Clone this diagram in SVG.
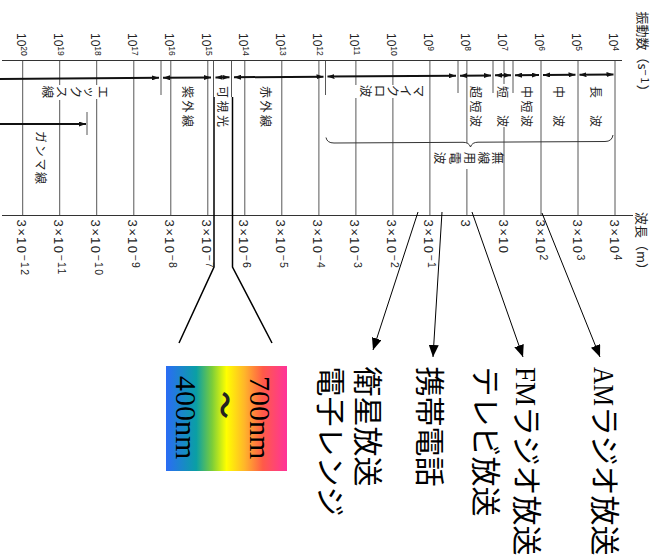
<svg xmlns="http://www.w3.org/2000/svg" width="658" height="560" viewBox="0 0 658 560">
<defs>
<style>
.ax{stroke:#333;stroke-width:1;fill:none}
.tk{stroke:#444;stroke-width:0.9;fill:none}
.bold{stroke:#000;stroke-width:1.5;fill:none}
.seg{stroke:#111;stroke-width:2;marker-start:url(#ah);marker-end:url(#ah)}
.seg1{stroke:#111;stroke-width:2;marker-end:url(#ah)}
.ptr{stroke:#000;stroke-width:1;fill:none;marker-end:url(#big)}
.num{font-family:"Liberation Sans",Arial,sans-serif;fill:#222}
.top{font-size:12px}
.bot{font-size:13px;letter-spacing:1.4px}
.jp{font-family:"Noto Sans CJK JP",sans-serif;fill:#222}
.lab{font-family:"Noto Sans CJK JP",sans-serif;font-size:12px;fill:#222;letter-spacing:2.5px}
.ch{font-family:"Noto Sans CJK JP",sans-serif;font-size:12.5px;fill:#222;text-anchor:middle;dominant-baseline:central}
.rl{font-family:"Noto Sans CJK JP",sans-serif;font-size:30px;fill:#000}
.lat{font-family:"Liberation Serif",serif}
.nm{font-family:"Liberation Serif",serif;font-size:30px;fill:#000}
</style>
<marker id="ah" viewBox="0 0 7 5" refX="7" refY="2.5" markerWidth="7" markerHeight="5" markerUnits="userSpaceOnUse" orient="auto-start-reverse"><path d="M0,0 L7,2.5 L0,5 Z" fill="#111"/></marker>
<marker id="big" viewBox="0 0 12 10" refX="12" refY="5" markerWidth="12" markerHeight="10" markerUnits="userSpaceOnUse" orient="auto"><path d="M0,0 L12,5 L0,10 Z" fill="#000"/></marker>
<linearGradient id="spec" x1="0" y1="0" x2="1" y2="0">
<stop offset="0" stop-color="#2b6cf5"/>
<stop offset="0.25" stop-color="#0a9fa5"/>
<stop offset="0.38" stop-color="#7acd3a"/>
<stop offset="0.5" stop-color="#ffff00"/>
<stop offset="0.65" stop-color="#ffb52a"/>
<stop offset="0.8" stop-color="#ff5a48"/>
<stop offset="1" stop-color="#ff3399"/>
</linearGradient>
</defs>
<rect width="658" height="560" fill="#fff"/>

<g id="axes">
<path class="ax" d="M2,60.5 H622"/>
<path class="ax" d="M2,215.5 H633"/>
</g>

<g id="ticks">
<path class="tk" d="M22.7,60.5 V215.5 M59.7,60.5 V85 M59.7,100 V215.5 M96.7,60.5 V85 M96.7,99 V215.5 M133.8,60.5 V215.5 M170.8,60.5 V215.5 M207.8,60.5 V215.5 M244.8,60.5 V215.5 M281.8,60.5 V215.5 M318.9,60.5 V215.5 M355.9,60.5 V85 M355.9,98 V215.5 M392.9,60.5 V85 M392.9,98 V215.5 M429.9,60.5 V215.5 M466.9,60.5 V143 M466.9,169 V215.5 M504,60.5 V84 M504,127 V215.5 M541,60.5 V215.5 M578,60.5 V215.5 M615,60.5 V215.5"/>
<path class="tk" d="M161,60.5 V95 M325.5,60.5 V95 M458,60.5 V93 M493,60.5 V93 M513,60.5 V93 M213.5,60.5 V97 M231.5,60.5 V97"/>
<path class="tk" d="M87,112 V135"/>
<path class="ax" d="M326,137.5 Q327,143 334,143 L463,142.3 Q469,142.3 470.5,147 Q472,142.2 478,142.2 L605,141.5 Q612,141.5 613,135"/>
</g>

<g id="visible-lines">
<path class="bold" d="M214,97 V267 L179,343"/>
<path class="bold" d="M232.5,97 V267 L272,343"/>
</g>

<g id="connectors">
<line class="seg1" x1="0" y1="79" x2="159" y2="77.83"/>
<line class="seg" x1="163" y1="77.81" x2="211" y2="77.45"/>
<line class="seg" x1="215.5" y1="77.42" x2="229.5" y2="77.32"/>
<line class="seg" x1="234" y1="77.28" x2="323.5" y2="76.63"/>
<line class="seg" x1="327.5" y1="76.6" x2="456" y2="75.66"/>
<line class="seg" x1="460" y1="75.63" x2="491" y2="75.4"/>
<line class="seg" x1="495" y1="75.37" x2="511" y2="75.25"/>
<line class="seg" x1="515" y1="75.22" x2="539" y2="75.05"/>
<line class="seg" x1="543" y1="75.02" x2="575.5" y2="74.78"/>
<line class="seg" x1="579.5" y1="74.75" x2="613.5" y2="74.5"/>
<line class="seg1" x1="0" y1="124" x2="86" y2="124"/>
<line class="ptr" x1="542" y1="213" x2="600" y2="357"/>
<line class="ptr" x1="472" y1="212" x2="523" y2="357"/>
<line class="ptr" x1="442" y1="212" x2="433" y2="357"/>
<line class="ptr" x1="418" y1="212" x2="373" y2="350"/>
</g>

<g id="freq-labels" class="num top">
<text transform="translate(17,33) rotate(90)">10<tspan font-size="8.5" dy="-4">20</tspan></text>
<text transform="translate(54,33) rotate(90)">10<tspan font-size="8.5" dy="-4">19</tspan></text>
<text transform="translate(91,33) rotate(90)">10<tspan font-size="8.5" dy="-4">18</tspan></text>
<text transform="translate(128.1,33) rotate(90)">10<tspan font-size="8.5" dy="-4">17</tspan></text>
<text transform="translate(165.1,33) rotate(90)">10<tspan font-size="8.5" dy="-4">16</tspan></text>
<text transform="translate(202.1,33) rotate(90)">10<tspan font-size="8.5" dy="-4">15</tspan></text>
<text transform="translate(239.1,33) rotate(90)">10<tspan font-size="8.5" dy="-4">14</tspan></text>
<text transform="translate(276.1,33) rotate(90)">10<tspan font-size="8.5" dy="-4">13</tspan></text>
<text transform="translate(313.2,33) rotate(90)">10<tspan font-size="8.5" dy="-4">12</tspan></text>
<text transform="translate(350.2,33) rotate(90)">10<tspan font-size="8.5" dy="-4">11</tspan></text>
<text transform="translate(387.2,33) rotate(90)">10<tspan font-size="8.5" dy="-4">10</tspan></text>
<text transform="translate(424.2,33) rotate(90)">10<tspan font-size="8.5" dy="-4">9</tspan></text>
<text transform="translate(461.2,33) rotate(90)">10<tspan font-size="8.5" dy="-4">8</tspan></text>
<text transform="translate(498.3,33) rotate(90)">10<tspan font-size="8.5" dy="-4">7</tspan></text>
<text transform="translate(535.3,33) rotate(90)">10<tspan font-size="8.5" dy="-4">6</tspan></text>
<text transform="translate(572.3,33) rotate(90)">10<tspan font-size="8.5" dy="-4">5</tspan></text>
<text transform="translate(609.3,33) rotate(90)">10<tspan font-size="8.5" dy="-4">4</tspan></text>
</g>
<g id="freq-title">
<text class="jp" font-size="13" transform="translate(638,11.5) rotate(90)">振動数（s<tspan font-size="11" dy="-2.5" letter-spacing="1.5">−1</tspan><tspan dy="2.5">）</tspan></text>
</g>

<g id="wave-labels" class="num bot">
<text transform="translate(17.2,219.5) rotate(90)">3×10<tspan font-size="10.5" dy="-4">−12</tspan></text>
<text transform="translate(54.2,219.5) rotate(90)">3×10<tspan font-size="10.5" dy="-4">−11</tspan></text>
<text transform="translate(91.2,219.5) rotate(90)">3×10<tspan font-size="10.5" dy="-4">−10</tspan></text>
<text transform="translate(128.3,219.5) rotate(90)">3×10<tspan font-size="10.5" dy="-4">−9</tspan></text>
<text transform="translate(165.3,219.5) rotate(90)">3×10<tspan font-size="10.5" dy="-4">−8</tspan></text>
<text transform="translate(202.3,219.5) rotate(90)">3×10<tspan font-size="10.5" dy="-4">−7</tspan></text>
<text transform="translate(239.3,219.5) rotate(90)">3×10<tspan font-size="10.5" dy="-4">−6</tspan></text>
<text transform="translate(276.3,219.5) rotate(90)">3×10<tspan font-size="10.5" dy="-4">−5</tspan></text>
<text transform="translate(313.4,219.5) rotate(90)">3×10<tspan font-size="10.5" dy="-4">−4</tspan></text>
<text transform="translate(350.4,219.5) rotate(90)">3×10<tspan font-size="10.5" dy="-4">−3</tspan></text>
<text transform="translate(387.4,219.5) rotate(90)">3×10<tspan font-size="10.5" dy="-4">−2</tspan></text>
<text transform="translate(424.4,219.5) rotate(90)">3×10<tspan font-size="10.5" dy="-4">−1</tspan></text>
<text transform="translate(461.4,219.5) rotate(90)">3</text>
<text transform="translate(498.5,219.5) rotate(90)">3×10</text>
<text transform="translate(535.5,219.5) rotate(90)">3×10<tspan font-size="10.5" dy="-4">2</tspan></text>
<text transform="translate(572.5,219.5) rotate(90)">3×10<tspan font-size="10.5" dy="-4">3</tspan></text>
<text transform="translate(609.5,219.5) rotate(90)">3×10<tspan font-size="10.5" dy="-4">4</tspan></text>
</g>
<g id="wave-title">
<text class="jp" font-size="13" transform="translate(637,212) rotate(90)">波長（m）</text>
</g>

<g id="band-xray">
<text class="ch" transform="translate(103,92) rotate(90)">エ</text>
<text class="ch" transform="translate(90,92) rotate(90)">ッ</text>
<text class="ch" transform="translate(76,92) rotate(90)">ク</text>
<text class="ch" transform="translate(62,92) rotate(90)">ス</text>
<text class="ch" transform="translate(48,92) rotate(90)">線</text>
</g>
<g id="band-gamma"><text class="lab" style="letter-spacing:1.7px" transform="translate(36,131) rotate(90)">ガンマ線</text></g>
<g id="band-uv"><text class="lab" transform="translate(182.5,86) rotate(90)">紫外線</text></g>
<g id="band-visible"><text class="lab" transform="translate(217.5,86) rotate(90)">可視光</text></g>
<g id="band-ir"><text class="lab" transform="translate(261,86) rotate(90)">赤外線</text></g>
<g id="band-micro">
<text class="ch" transform="translate(419,91) rotate(90)">マ</text>
<text class="ch" transform="translate(406,91) rotate(90)">イ</text>
<text class="ch" transform="translate(393,91) rotate(90)">ク</text>
<text class="ch" transform="translate(380,91) rotate(90)">ロ</text>
<text class="ch" transform="translate(366,91) rotate(90)">波</text>
</g>
<g id="band-vhf"><text class="lab" transform="translate(471,86) rotate(90)">超短波</text></g>
<g id="band-sw"><text class="lab" transform="translate(498,86) rotate(90)">短　波</text></g>
<g id="band-mf"><text class="lab" transform="translate(521.5,86) rotate(90)">中短波</text></g>
<g id="band-mw"><text class="lab" transform="translate(554,86) rotate(90)">中　波</text></g>
<g id="band-lw"><text class="lab" transform="translate(591,86) rotate(90)">長　波</text></g>
<g id="band-radio">
<text class="ch" transform="translate(498,158) rotate(90)">無</text>
<text class="ch" transform="translate(484,158) rotate(90)">線</text>
<text class="ch" transform="translate(470,158) rotate(90)">用</text>
<text class="ch" transform="translate(455,158) rotate(90)">電</text>
<text class="ch" transform="translate(440,158) rotate(90)">波</text>
</g>

<g id="spectrum">
<rect x="166" y="366" width="121" height="105" fill="url(#spec)"/>
<text class="nm" transform="translate(250,376) rotate(90)">700nm</text>
<text class="jp" font-size="28" font-weight="bold" text-anchor="middle" dominant-baseline="central" transform="translate(226,405) rotate(90)">〜</text>
<text class="nm" transform="translate(176,376) rotate(90)">400nm</text>
</g>

<g id="label-am"><text class="rl" transform="translate(594,367) rotate(90)"><tspan class="lat" textLength="39" lengthAdjust="spacingAndGlyphs">AM</tspan>ラジオ放送</text></g>
<g id="label-fm">
<text class="rl" transform="translate(516,367) rotate(90)"><tspan class="lat" textLength="39" lengthAdjust="spacingAndGlyphs">FM</tspan>ラジオ放送</text>
<text class="rl" transform="translate(475,366.5) rotate(90)">テレビ放送</text>
</g>
<g id="label-mobile"><text class="rl" transform="translate(419,366.5) rotate(90)">携帯電話</text></g>
<g id="label-sat">
<text class="rl" transform="translate(357,366.5) rotate(90)">衛星放送</text>
<text class="rl" transform="translate(320,366.5) rotate(90)">電子レンジ</text>
</g>
</svg>
